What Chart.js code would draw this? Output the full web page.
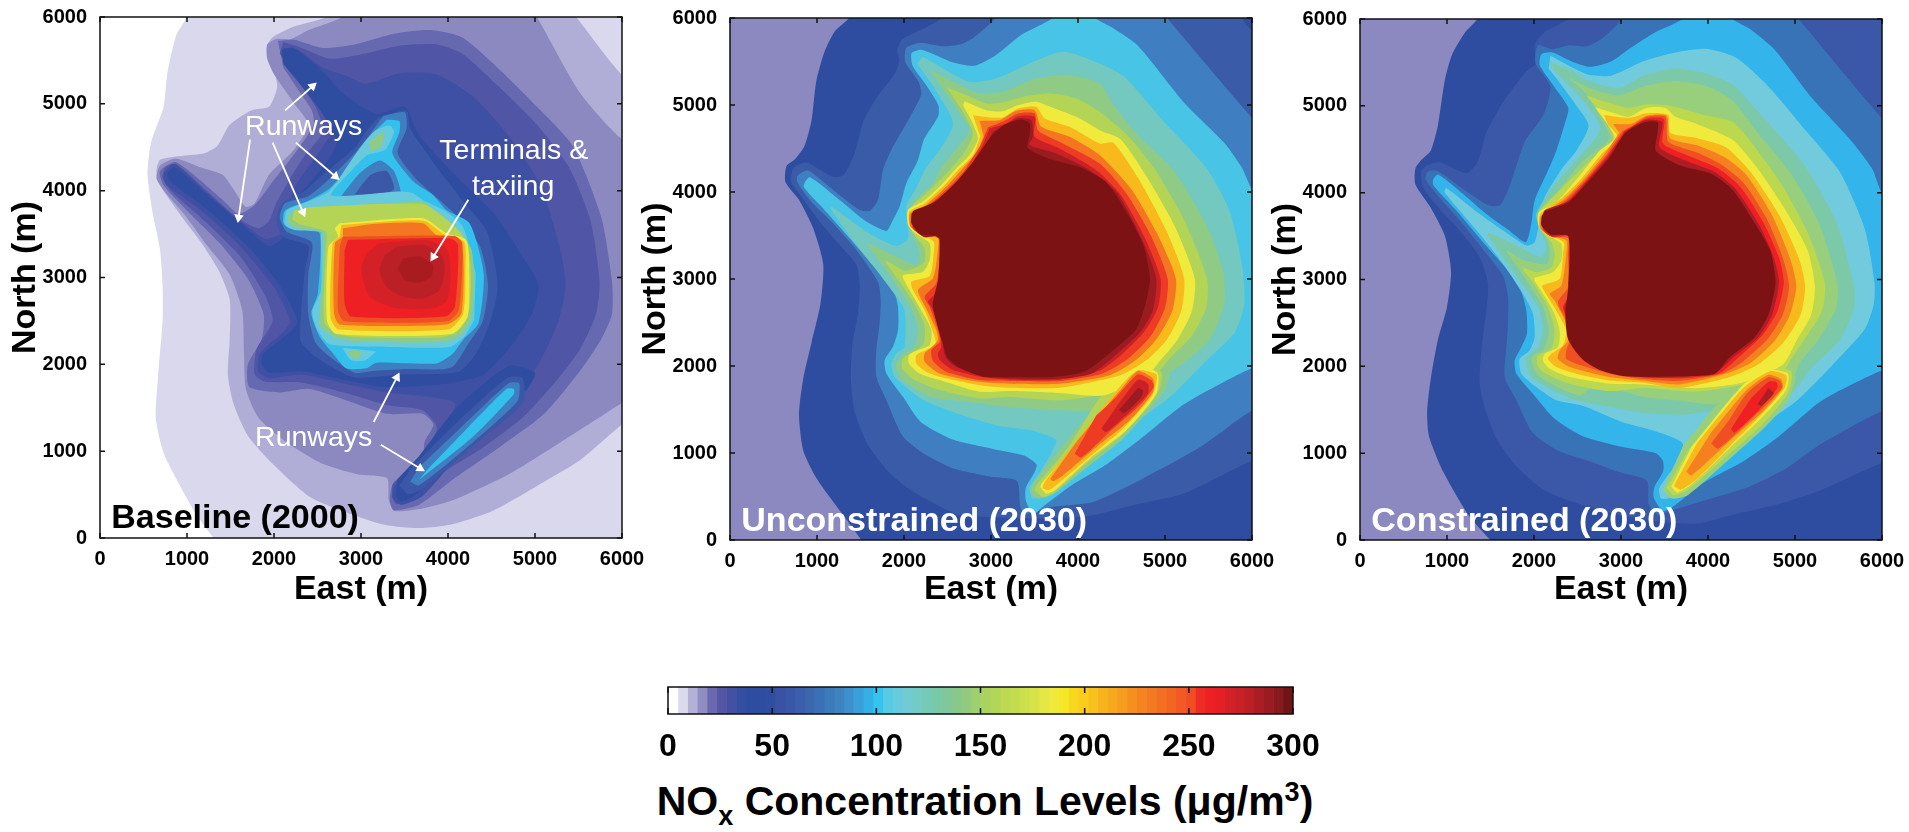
<!DOCTYPE html>
<html><head><meta charset="utf-8">
<style>
html,body{margin:0;padding:0;background:#fff;width:1909px;height:832px;overflow:hidden}
canvas{position:absolute;display:block}
#cbt{position:absolute;left:560px;width:850px;top:778px;text-align:center;font:bold 41px "Liberation Sans",Arial,sans-serif;color:#000;white-space:nowrap}
#cbt sub{font-size:27px;line-height:0;vertical-align:-10px}
#cbt sup{font-size:27px;line-height:0;vertical-align:14px}
</style></head><body>
<canvas id="c1" style="left:0;top:0"></canvas>
<canvas id="c2" style="left:630px;top:0"></canvas>
<canvas id="c3" style="left:1260px;top:0"></canvas>
<canvas id="cb" style="left:600px;top:670px"></canvas>
<div id="cbt">NO<sub>x</sub> Concentration Levels (μg/m<sup>3</sup>)</div>
<script src="https://cdn.jsdelivr.net/npm/chart.js@4"></script>
<script>
// ---------- colour bar ----------
const cbarColors=['#ffffff','#dcdbee','#b3b1d8','#908dc3','#6a69b0','#5555a5','#4351a3','#324fa1','#2e4da0','#2e4da0','#2f4ea1','#3a52a4','#3b58a8','#3b5fac','#3b67af','#3a71b6','#3c7ab9','#3d83c0','#3b90cd','#39a0da','#35b0e6','#33c4f0','#57cbe5','#66cbdd','#72cbd4','#74cbc5','#75cab6','#78c9a8','#7ec89a','#88c98b','#92cb7f','#9fcf6f','#aad35f','#b3d658','#bcd950','#c3dc4d','#cde04c','#d8e349','#e5e745','#f0e93b','#f5e726','#f8d81f','#f9cc1e','#f8c01d','#f7b41c','#f7a81d','#f69c1e','#f5901f','#f58420','#f47a21','#f36f22','#f26523','#f25923','#f14e24','#ee2b25','#ed2024','#e42026','#d42027','#c72027','#bc2027','#aa1d24','#9a1b22','#871a1f','#6f1518'];
const cbarStep=4.6875;
const cbarTicks=[0,50,100,150,200,250,300];
const panelTicks=[0,1000,2000,3000,4000,5000,6000];

// ---------- Panel 1: Baseline (2000), contour outlines in metres (x,y,x,y,...) ----------
const b1=[998,6100,998,6000,875,5787,772,5335,731,4965,587,4554,546,4184,608,3732,690,3321,719,2910,719,2499,669,1882,641,1389,731,978,916,608,1101,279,1306,0,1400,-100,6100,-100,6100,6100];
const b2=[2600,6100,2600,6000,2230,5890,1984,5766,1922,5664,1943,5499,2025,5294,2033,5170,1943,4965,1737,4924,1491,4759,1347,4513,1203,4431,957,4402,690,4357,649,4225,690,4061,916,3732,1162,3403,1368,3074,1491,2745,1491,2293,1470,1882,1532,1554,1696,1184,1984,855,2394,485,2764,321,3257,156,3667,115,4037,156,4530,321,5105,649,5516,896,6000,1307,6100,1350,6100,5400,6000,5335,5475,6000,5400,6100];
const b3=[2785,6100,2785,6000,2394,5848,2189,5746,2025,5746,1922,5684,1922,5520,2004,5335,2230,5006,2394,4759,2230,4472,1943,4184,1778,3855,1676,3814,1532,4020,1409,4184,1162,4266,875,4369,690,4287,649,4143,752,3978,998,3691,1203,3403,1491,3033,1635,2622,1655,2129,1676,1718,1819,1389,2148,1101,2559,855,2969,732,3298,690,3318,444,3380,312,3708,341,4078,444,4694,732,5228,1060,6000,1554,6100,1600,6100,4700,6000,4595,5516,5129,5023,6000,4950,6100];
const b4=[2045,5725,2230,5737,2559,5643,2928,5684,3380,5807,3791,5849,4160,5766,4612,5376,5023,4965,5434,4513,5762,3691,5885,2951,5885,2581,5762,2293,5516,1923,5105,1430,4612,1060,4078,690,3667,382,3380,321,3331,444,3380,649,3708,855,3729,1101,3832,1307,3708,1430,3298,1430,2805,1595,2394,1718,2066,1677,1717,1739,1700,2000,1860,2293,1881,2581,1696,2992,1368,3403,998,3773,731,4061,690,4225,875,4328,1409,3896,1593,3732,1778,3835,1984,4102,2271,4472,2456,4759,2435,4924,2271,5170,2107,5417];
const b5=[2107,5708,2271,5663,2641,5520,3051,5581,3462,5672,3873,5684,4160,5581,4571,5211,5023,4759,5393,4266,5639,3650,5742,2951,5701,2581,5516,2170,5269,1841,4859,1389,4366,1019,3914,732,3626,444,3400,395,3360,608,3544,773,3708,937,3873,1266,3708,1471,3298,1533,2805,1677,2312,1792,1902,1800,1778,1882,1799,2170,1984,2499,1902,2787,1614,3239,1203,3650,834,3978,719,4143,752,4266,875,4307,1203,4020,1573,3691,1819,3567,1943,3650,2025,3855,2312,4348,2559,4677,2476,4965,2312,5211,2148,5458,2066,5581];
const b6=[2107,5647,2271,5622,2559,5417,2846,5314,3051,5232,3462,5355,3873,5335,4284,5088,4694,4636,5064,4061,5290,3321,5351,2910,5269,2499,5064,2047,4817,1677,4489,1266,4078,896,3708,485,3462,382,3360,464,3400,629,3667,896,3914,1184,4078,1554,3708,1636,3298,1677,2805,1780,2312,1882,1943,1841,1819,1923,1840,2129,2107,2376,2189,2499,1984,2910,1573,3403,1162,3773,772,4061,731,4184,854,4307,1203,3999,1614,3650,1902,3444,2107,3526,2230,4020,2476,4389,2661,4677,2600,4924,2394,5211,2189,5417,2086,5561];
const b6d=[2086,5622,2230,5643,2559,5376,2805,5109,3175,4883,3503,4965,3667,4636,4119,4143,4530,3732,4859,3239,5043,2910,4961,2581,4756,2252,4407,1882,4000,1780,3298,1739,2805,1821,2312,1923,1943,1903,1860,2006,1881,2129,2189,2376,2271,2499,2066,2910,1696,3362,1244,3773,813,4102,772,4184,854,4266,1203,3978,1614,3629,1943,3362,2127,3485,2107,3732,2312,3978,2559,4266,2723,4554,2559,4883,2312,5211,2107,5458];
const b6e=[3400,470,3480,420,3660,520,4060,920,4470,1290,4790,1680,4900,1700,5000,1900,4700,1980,4100,1500,3680,960,3420,680];
const b7=[3195,4842,3524,4924,3565,4718,3873,4266,4160,3896,4448,3526,4571,2910,4489,2499,4325,2129,4119,1915,3462,1882,2928,1849,2600,2006,2312,2252,2312,2581,2353,3074,2394,3362,2107,3465,2025,3650,2095,3855,2353,3999,2559,4184,2928,4492,3052,4677];
const b7r=[3442,608,3544,506,3708,567,4284,1060,4859,1554,4859,1841,4674,1841,4078,1307,3585,814];
const b8=[3257,4862,3503,4903,3524,4718,3421,4431,3667,4102,4078,3732,4366,3362,4460,2910,4400,2499,4242,2252,4037,1964,3462,1944,3133,1923,2928,1903,2641,2088,2476,2252,2394,2581,2394,3033,2435,3403,2148,3526,2066,3691,2127,3855,2394,3937,2600,4102,2928,4431,3092,4636];
const b8r=[3565,649,3667,608,4284,1101,4797,1574,4818,1780,4694,1780,4119,1245,3667,814];
const b9=[3298,4821,3442,4800,3442,4677,3360,4431,3606,4102,3827,3950,3980,3778,4248,3624,4410,3048,4350,2472,4172,2280,4057,2126,3865,2011,3176,2019,3061,1954,2831,1954,2678,2126,2525,2318,2429,2587,2505,2818,2525,3509,2333,3555,2180,3566,2107,3629,2127,3773,2394,3884,2641,4028,2969,4389,3133,4657];
const b9r=[3667,670,4284,1163,4756,1656,4756,1718,4674,1718,4202,1245,3749,773];
const h1=[2743,3896,2990,4205,3216,4348,3380,4225,3462,3917,3257,3876];
const h2=[2928,3958,3113,4184,3298,4225,3380,4020,3175,3937];
const b10=[4320,3048,4172,3586,3980,3758,3712,3893,3597,3970,3444,3989,2661,3945,2867,4205,3072,4410,3277,4472,3380,4677,3331,4751,3175,4698,3052,4574,2887,4348,2641,4000,2394,3876,2148,3773,2127,3609,2230,3547,2540,3526,2540,3470,2540,2856,2440,2606,2500,2395,2640,2230,3329,2200,4018,2200,4190,2320,4300,2510];
const b10s=[2785,2191,2887,2047,3052,2047,3175,2150];
const b11=[2210,3732,3708,3876,3873,3732,4099,3568,4270,3321,4300,2910,4270,2540,4150,2340,3955,2260,3052,2260,2723,2300,2530,2440,2530,2581,2570,3321,2540,3526,2271,3568,2168,3629,2168,3732];
const b11s=[3092,4554,3257,4677,3236,4513,3113,4451];
const b11t=[2846,2129,2928,2067,3010,2129,2928,2170];
const b12=[2230,3773,2476,3814,3708,3847,3955,3691,4140,3526,4240,3321,4265,2910,4225,2540,4100,2370,3914,2310,3052,2310,2764,2345,2580,2480,2595,3321,2600,3526,2292,3617,2210,3670];
const b13=[2755,3624,3712,3682,3980,3509,4210,3432,4245,3048,4225,2549,4040,2350,2716,2350,2610,2500,2625,3355,2735,3470,2697,3566];
const b14=[2774,3605,3712,3655,3961,3490,4185,3413,4200,3048,4175,2587,4010,2405,2735,2405,2650,2549,2675,3394,2755,3470];
const b15=[2793,3566,3138,3616,3712,3624,3865,3490,4150,3413,4155,2587,3990,2460,2755,2460,2690,2587,2700,3394,2793,3470];
const b16=[2793,3470,4076,3478,4165,3394,4125,2626,3990,2495,2812,2495,2735,2626,2755,3355];
const b17=[2850,3432,4018,3451,4115,3374,4080,2664,3965,2550,2889,2550,2812,2702,2812,3317];
const b18=[3214,3394,3712,3432,3980,3336,4030,3048,3990,2741,3827,2645,3406,2645,3099,2779,3003,3086,3061,3278];
const b19=[3406,3355,3712,3374,3923,3259,3961,3086,3904,2856,3712,2760,3482,2779,3291,2894,3214,3086,3272,3259];
const b20=[3482,3221,3674,3240,3827,3144,3808,3010,3655,2940,3501,2971,3425,3106];

// ---------- Panel 2: Unconstrained (2030) ----------
const u1=[1368,6100,1368,6000,1203,5845,1080,5595,990,5265,936,4815,855,4525,750,4380,650,4300,637,4115,793,3910,957,3580,1072,3170,1040,2715,936,2265,842,1855,793,1440,842,1030,998,703,1327,250,1511,0,1600,-100,6100,-100,6100,6100];
const u2=[2435,6100,2435,6000,2189,5860,1984,5760,1922,5635,1943,5510,1901,5370,1696,5100,1532,4810,1430,4440,1306,4195,1183,4175,998,4280,875,4340,731,4280,702,4115,834,3930,998,3700,1203,3455,1450,3170,1491,2920,1470,2595,1409,2265,1388,1855,1430,1485,1573,1115,1819,785,2066,580,2435,375,2640,290,3298,250,4078,270,4694,415,5228,538,6000,908,6100,860,6100,5900,6000,5860,5885,6000,5885,6100];
const u3=[3051,6100,3051,6000,2805,5780,2641,5695,2435,5675,2189,5715,2025,5655,2016,5490,2168,5265,2197,5120,2066,4855,1854,4484,1758,4254,1701,3909,1605,3782,1490,3794,1184,4024,897,4246,782,4196,770,4120,916,3909,1184,3640,1452,3334,1701,2969,1732,2758,1720,2490,1682,2183,1682,1876,1797,1608,1984,1195,2230,990,2559,825,3010,725,3298,680,3339,375,3400,300,3712,382,4172,436,4747,707,5400,1065,6000,1485,6100,1440,6100,4800,6000,4854,5023,6000,4950,6100];
const u4=[3708,6100,3708,6000,3339,5800,3051,5570,2805,5450,2559,5490,2312,5595,2189,5635,2086,5595,2099,5450,2271,5205,2394,5000,2394,4875,2230,4605,2161,4369,2027,4100,1950,3832,1854,3640,1797,3552,1567,3660,1260,3909,916,4170,847,4062,1069,3813,1375,3468,1644,3161,1873,2892,1931,2681,1931,2413,1873,2221,1778,2068,1797,1915,1988,1646,2189,1360,2559,1155,3010,1050,3380,970,3524,867,3503,785,3400,600,3400,456,3483,292,3585,374,3914,620,4325,867,4735,1175,5228,1566,6000,1977,6100,1950,6100,4000,6000,4032,5885,4278,5680,4566,5228,5018,4694,5676,4407,5881,4201,6000,4201,6100];
const u5=[2218,5554,2486,5400,2754,5266,3061,5305,3444,5477,3827,5611,4248,5477,4530,5327,4982,4813,5475,4278,5741,3785,5885,3169,5914,2717,5803,2388,5475,2059,5064,1648,4612,1319,4201,1073,3873,785,3626,538,3483,477,3442,600,3565,785,3729,1073,3750,1155,3462,1258,3051,1320,2559,1470,2218,1608,2065,1723,1892,1876,1854,2030,1912,2145,2007,2221,2007,2643,1912,2797,1682,3103,1452,3391,1165,3794,1165,3832,1567,3544,1912,3380,2046,3468,2026,3832,2160,4081,2237,4251,2448,4539,2563,4768,2524,4902,2314,5247,2149,5477];
const u6=[2295,5408,2563,5266,2869,5132,3137,5151,3520,5305,3903,5343,4248,5247,4407,4998,4694,4648,5105,4237,5475,3621,5668,3087,5680,2717,5516,2306,5187,2018,4961,1854,4900,1648,4172,1491,3790,1491,3215,1529,2723,1590,2295,1646,1988,1838,1904,1991,1981,2126,2122,2221,2161,2432,2084,2662,1950,2873,1778,3123,1586,3391,1586,3410,1950,3238,2141,3161,2180,3295,2122,3449,2046,3660,2103,3870,2333,4100,2409,4251,2620,4520,2754,4711,2658,4883,2467,5151];
const u6r=[3452,552,3541,476,3713,525,4134,859,4517,1165,4862,1548,5015,1759,5053,1989,4824,2027,4172,1491,3847,1108,3483,648];
const u7=[2494,5201,2678,5132,2946,5017,3176,5037,3367,5094,3673,5132,3980,5075,4248,4922,4571,4648,4900,4237,5228,3662,5483,3004,5475,2676,5310,2347,5064,2100,4920,1936,4287,1682,3790,1606,3215,1644,2869,1627,2410,1723,2122,1838,1981,1972,1988,2087,2218,2240,2237,2451,2141,2682,1988,2912,1797,3180,1797,3211,2007,3096,2161,3142,2237,3199,2237,3353,2122,3506,2057,3621,2072,3813,2295,4024,2524,4251,2697,4462,2793,4673,2678,4922];
const u7r=[3502,571,3598,495,3732,552,4096,878,4479,1184,4824,1548,4939,1740,4958,1931,4747,2027,4287,1682,3904,1088,3521,629];
const u8=[2697,5044,2946,4941,3137,4929,3310,4998,3520,5037,3635,4998,3980,4864,4248,4711,4489,4607,4777,4196,5105,3621,5343,3004,5310,2635,5146,2306,4941,2059,4838,1936,4307,1663,3790,1690,3215,1713,2869,1704,2410,1838,2180,1915,2057,2030,2057,2125,2161,2183,2295,2240,2314,2413,2218,2605,1988,3008,1988,3046,2218,3084,2295,3218,2295,3410,2122,3533,2046,3621,2046,3794,2218,3890,2410,4062,2582,4251,2754,4424,2850,4615,2773,4826,2678,4998];
const u8r=[3567,610,3636,533,3732,571,4134,935,4556,1261,4900,1682,4919,1912,4747,1989,4498,1797,4307,1529,3943,1069,3579,648];
const u9=[2793,4883,2984,4857,3137,4857,3310,4960,3520,4979,3616,4845,3903,4749,4248,4558,4407,4566,4694,4155,5023,3539,5220,3004,5187,2635,5023,2306,4776,2059,4489,1895,3790,1751,3215,1751,2869,1780,2410,1876,2256,1934,2141,2030,2141,2125,2256,2183,2364,2260,2333,2394,2237,2643,2103,2873,2084,2969,2295,3034,2341,3295,2341,3429,2161,3525,2065,3621,2065,3775,2237,3870,2448,4062,2620,4251,2793,4424,2877,4634];
const u9r=[3590,602,3655,571,3751,629,4134,954,4517,1280,4843,1644,4900,1797,4900,1904,4690,1950,4479,1759,3943,1088,3617,667];
const u10=[2869,4818,3099,4826,3290,4933,3501,4941,3578,4749,3903,4634,4248,4424,4612,4032,4900,3539,5125,3004,5084,2635,4900,2306,4653,2059,4366,1895,3790,1797,3215,1797,2869,1819,2410,1915,2237,2049,2237,2145,2325,2221,2390,2298,2371,2413,2264,2643,2161,2873,2333,3008,2390,3333,2390,3468,2180,3518,2072,3610,2072,3755,2256,3851,2486,4062,2658,4251,2812,4424,2927,4596];
const u10r=[3682,705,3713,675,3828,744,4211,1069,4594,1376,4862,1701,4862,1854,4690,1943,4517,1759,3981,1127];
const u11=[2965,4742,3156,4818,3310,4902,3501,4902,3539,4711,3827,4558,4248,4328,4551,3991,4838,3498,5031,3004,5002,2676,4838,2347,4571,2080,4284,1915,3790,1828,3215,1828,2869,1838,2486,1934,2333,2060,2314,2183,2410,2279,2390,2413,2295,2681,2237,2797,2371,2950,2417,3333,2410,3479,2199,3506,2095,3594,2095,3736,2275,3840,2524,4062,2697,4251,2869,4519];
const u11r=[3962,993,4038,947,4383,1261,4728,1567,4870,1759,4843,1835,4690,1904,4441,1644,4211,1433];
const u12=[2984,4730,3176,4788,3310,4872,3501,4864,3501,4634,3788,4500,4210,4251,4489,3970,4776,3457,4949,3004,4920,2676,4756,2388,4489,2121,4243,1944,3790,1843,3215,1843,2869,1876,2563,1953,2410,2068,2390,2137,2429,2221,2410,2413,2314,2681,2275,2739,2390,2873,2429,3333,2421,3487,2218,3495,2111,3583,2111,3717,2295,3832,2563,4062,2735,4251,2907,4539];
const u12r=[4268,1280,4326,1242,4594,1471,4804,1682,4804,1797,4690,1843,4479,1586];
const u13=[3022,4692,3310,4845,3463,4826,3482,4634,3444,4539,3750,4443,4133,4251,4448,3991,4735,3457,4900,3004,4858,2635,4715,2388,4427,2121,4160,1915,3790,1854,3215,1854,2869,1907,2601,1991,2486,2087,2455,2183,2448,2336,2371,2528,2325,2720,2410,2835,2440,3333,2432,3495,2237,3479,2134,3564,2126,3698,2314,3824,2582,4062,2773,4251,2946,4539];
const u13r=[4471,1491,4536,1460,4728,1644,4747,1720,4690,1751];
const u14=[2107,3785,2353,3888,2600,4114,2805,4361,3010,4648,3154,4772,3339,4833,3442,4792,3442,4648,3421,4505,3667,4381,4037,4279,4325,4114,4571,3744,4756,3374,4826,3004,4776,2717,4674,2429,4407,2183,4078,1936,3708,1874,3257,1874,2928,1874,2641,1977,2497,2100,2456,2223,2394,2429,2333,2717,2394,3004,2407,3457,2353,3498,2189,3518,2086,3641,2086,3744];

// ---------- Panel 3: Constrained (2030) ----------
const k1=[1347,6100,1347,6000,1203,5840,1060,5594,977,5306,895,4772,813,4484,711,4381,637,4278,637,4094,813,3826,977,3498,1047,3087,998,2676,895,2306,813,1854,772,1484,793,1196,957,785,1244,292,1499,0,1600,-100,6100,-100,6100,6100];
const k2=[2394,6100,2394,6000,2107,5840,2004,5696,2025,5491,1901,5388,1655,5059,1450,4690,1395,4484,1337,4330,1222,4223,916,4350,763,4311,705,4254,724,4062,916,3813,1146,3564,1375,3257,1471,2950,1452,2643,1395,2183,1375,1800,1433,1525,1573,1155,1819,826,2107,580,2518,415,2969,292,3462,210,3873,189,4284,292,4817,415,5310,580,6000,888,6100,860,6100,6100];
const k3=[3010,6100,3010,6000,2785,5778,2600,5684,2394,5696,2210,5655,2045,5696,2016,5491,2189,5224,2107,4895,1901,4605,1854,4484,1778,4254,1701,4024,1605,3851,1471,3859,1184,4043,897,4246,782,4246,755,4158,878,3985,1146,3679,1395,3372,1643,3046,1701,2797,1701,2490,1682,2221,1663,1876,1797,1608,1984,1237,2271,1032,2641,908,2969,785,3298,682,3318,415,3421,292,3626,353,4037,477,4489,620,4900,826,5310,1114,6000,1484,6100,1440,6100,4800,6000,4854,5043,6000,4970,6100];
const k4=[3708,6100,3708,6000,3380,5840,3092,5655,2887,5511,2641,5450,2435,5511,2210,5614,2086,5594,2066,5470,2230,5224,2394,4977,2353,4792,2256,4484,2161,4254,2007,3909,1969,3640,1904,3429,1701,3575,1452,3755,1184,3985,897,4208,839,4147,847,4081,1107,3794,1414,3429,1682,3123,1854,2854,1912,2643,1919,2375,1854,2221,1778,2068,1797,1915,1988,1684,2230,1402,2559,1196,3010,1073,3400,999,3483,908,3483,785,3380,600,3380,477,3483,333,3585,374,3955,662,4407,908,4817,1196,5310,1607,6000,1956,6100,1930,6100,3950,6000,3991,5885,4278,5639,4607,5187,5100,4776,5635,4489,5881,4284,6000,4284,6100];
const k5=[2189,5577,2600,5368,2887,5347,3257,5512,3626,5614,3996,5655,4325,5553,4694,5224,5146,4689,5516,4237,5803,3580,5914,2963,5906,2717,5803,2429,5434,2018,5023,1607,4612,1319,4201,1073,3873,826,3606,497,3462,477,3442,600,3626,867,3709,1114,3380,1258,3010,1360,2559,1545,2256,1608,2027,1761,1854,1915,1835,2087,1950,2183,2007,2336,1988,2605,1873,2835,1644,3180,1375,3525,973,4005,992,4054,1299,3813,1644,3564,1912,3391,2007,3429,2065,3679,2122,3947,2333,4292,2486,4484,2628,4772,2476,5018,2312,5244,2168,5429];
const k6=[2189,5503,2435,5409,2600,5298,2969,5203,3257,5347,3626,5429,3996,5367,4284,5244,4612,4895,5105,4319,5475,3662,5680,2922,5680,2676,5516,2306,5187,1977,4961,1689,4612,1443,4284,1196,3914,867,3647,538,3565,538,3873,1155,4099,1402,4099,1484,3709,1443,3257,1463,2723,1560,2486,1608,2218,1723,1969,1876,1912,2030,1912,2106,2046,2221,2103,2451,2046,2682,1835,2988,1471,3506,1471,3544,1835,3372,2084,3257,2141,3410,2084,3525,2027,3755,2199,4043,2448,4330,2764,4731,2600,5018,2394,5244,2230,5409];
const k7=[2394,5326,2641,5203,2969,5121,3257,5224,3626,5285,3996,5224,4284,5059,4571,4690,4941,4237,5269,3662,5487,2963,5475,2676,5269,2306,5064,2059,4961,1854,4427,1792,4111,1566,3667,1607,3257,1648,2723,1792,2524,1665,2065,1876,1977,2030,1988,2126,2103,2183,2172,2394,2103,2682,1892,3027,1690,3314,1690,3334,1873,3226,2149,3180,2180,3334,2141,3487,2057,3621,2065,3794,2295,4043,2563,4369,2867,4628,2702,4977,2600,5142];
const k7r=[3483,580,3585,477,3770,518,4243,929,4653,1299,4920,1607,5002,1895,4776,1977,4407,1792,4111,1566,3709,1073];
const k8=[2600,5121,2846,5039,3092,4977,3298,5018,3585,4998,3955,4895,4284,4813,4571,4484,4859,4073,5146,3539,5343,2963,5310,2635,5105,2306,4941,2059,4859,1936,4407,1792,3873,1710,3257,1751,2869,1715,2410,1800,2103,1934,2034,2030,2046,2125,2199,2202,2237,2413,2160,2682,1988,2969,1881,3103,1881,3134,2027,3084,2199,3134,2237,3295,2199,3429,2065,3583,2046,3755,2256,3985,2601,4330,2908,4628,2785,4895];
const k8r=[3524,600,3606,518,3770,580,4243,990,4633,1340,4920,1689,4961,1936,4735,1997,4407,1792,3770,1032];
const k9=[2702,4985,2928,4916,3092,4874,3298,4977,3503,4977,3626,4874,3873,4792,4284,4607,4571,4278,4900,3785,5146,3333,5228,2922,5187,2594,5023,2306,4859,2018,4391,1812,3873,1751,3257,1792,2869,1800,2410,1876,2180,1972,2103,2068,2122,2145,2275,2221,2295,2413,2218,2643,2007,2988,2007,3019,2218,3084,2314,3218,2314,3410,2141,3525,2053,3621,2057,3775,2256,3890,2500,4165,2754,4484,2928,4628,2826,4813];
const k9r=[3577,612,3647,547,3811,641,4243,1052,4612,1401,4900,1730,4920,1915,4715,1956,4407,1792,3811,1073];
const k10=[2805,4895,3092,4862,3298,4916,3544,4895,3565,4689,3873,4628,4202,4525,4489,4237,4817,3744,5043,3251,5117,2922,5064,2594,4859,2265,4571,2018,4243,1874,3667,1751,3257,1812,2869,1838,2486,1915,2256,1991,2161,2087,2199,2145,2333,2240,2371,2413,2256,2643,2103,2892,2095,2931,2295,3008,2333,3295,2341,3429,2161,3518,2065,3610,2072,3755,2320,3940,2535,4150,2790,4460,2969,4628,2846,4792];
const k10r=[3606,621,3688,580,3873,703,4284,1114,4612,1442,4879,1751,4900,1895,4715,1944,4407,1751,3873,1114];
const k11=[2908,4792,3113,4792,3298,4887,3524,4887,3565,4628,3873,4546,4202,4402,4448,4196,4735,3744,4941,3251,5015,2922,4941,2594,4776,2306,4489,2039,4202,1915,3667,1792,3257,1833,2869,1876,2410,1991,2275,2087,2295,2183,2390,2298,2371,2490,2237,2758,2180,2835,2314,2931,2371,3295,2371,3448,2180,3506,2072,3594,2084,3736,2345,3925,2555,4135,2810,4445,2980,4690];
const k11r=[3750,785,3811,744,4284,1175,4633,1484,4859,1751,4838,1854,4694,1903,4448,1730,4037,1237];
const k12=[3020,4715,3133,4772,3298,4874,3511,4874,3544,4587,3873,4463,4160,4320,4407,4114,4674,3703,4859,3251,4932,2922,4859,2594,4694,2326,4407,2059,4160,1915,3667,1833,3257,1854,2869,1915,2486,2030,2371,2087,2371,2183,2417,2317,2371,2528,2275,2739,2390,2912,2390,3295,2390,3479,2199,3495,2095,3579,2103,3717,2365,3915,2570,4125,2830,4435];
const k12r=[4037,1114,4119,1052,4612,1504,4850,1751,4826,1833,4694,1874,4448,1689,4243,1381];
const k13=[3040,4710,3298,4854,3495,4846,3483,4566,3832,4402,4119,4279,4366,4073,4633,3662,4817,3251,4871,2963,4797,2635,4633,2367,4325,2080,4119,1915,3667,1862,3257,1882,2869,1934,2563,2087,2467,2183,2467,2336,2390,2528,2333,2681,2410,2835,2410,3333,2402,3502,2218,3487,2111,3564,2111,3698,2380,3905,2580,4115,2845,4425];
const k13r=[4263,1278,4304,1237,4571,1484,4797,1751,4785,1821,4694,1821,4489,1628];
const k14=[3045,4700,3277,4835,3474,4813,3442,4525,3709,4381,4078,4237,4325,4032,4592,3621,4756,3251,4817,2963,4735,2594,4571,2326,4284,2100,4099,1936,3667,1874,3257,1874,2869,1953,2620,2106,2524,2183,2448,2336,2390,2528,2350,2681,2410,2835,2410,3498,2189,3510,2095,3621,2095,3724,2127,3800,2394,3900,2590,4110,2855,4415];
const k14r=[4571,1566,4612,1545,4756,1689,4694,1751];
const k15=[2127,3785,2394,3888,2601,4100,2869,4407,3051,4689,3277,4813,3421,4813,3421,4689,3400,4484,3667,4319,4037,4217,4284,4032,4530,3662,4715,3333,4776,2963,4694,2594,4530,2326,4243,2100,4078,1915,3667,1886,3051,1886,2764,1956,2559,2080,2394,2306,2361,2594,2394,2922,2394,3498,2189,3518,2086,3621,2086,3724];

// Draw order, low level to high level: [colour, outline, outline...]
const baselineLevels=[['#d9d8ec',b1],['#b0aed6',b2],['#8b89c0',b3],['#6668b0',b4],['#5055a5',b5],['#3d50a3',b6],['#2e4da0',b6d,b6e],['#3a58a7',b7,b7r],['#3f7fc1',b8,b8r],['#33c0ec',b9,b9r],['#3f7fc1',h1],['#3a58a7',h2],['#68cadb',b10,b10s],['#90cb86',b11,b11s,b11t],['#b4d455',b12],['#f0ea3c',b13],['#f7b91c',b14],['#f47620',b15],['#f04e23',b16],['#ee2024',b17],['#d42027',b18],['#bc2027',b19],['#a81c20',b20]];
const unconstrainedLevels=[['#8b89c0',[-100,-100,6100,-100,6100,6100,-100,6100]],['#2e4da0',u1],['#3a5ba8',u2],['#3f7fc1',u3],['#48c4e6',u4],['#73c8c0',u5],['#90cb86',u6,u6r],['#b4d455',u7,u7r],['#f0ea3c',u8,u8r],['#f7b91c',u9,u9r],['#f47620',u10,u10r],['#ee3b24',u11,u11r],['#cc2027',u12,u12r],['#9a1b20',u13,u13r],['#7c1214',u14]];
const constrainedLevels=[['#8b89c0',[-100,-100,6100,-100,6100,6100,-100,6100]],['#2e4da0',k1],['#3a58a7',k2],['#3873b8',k3],['#33b4ea',k4],['#72cbdc',k5],['#7bc9a8',k6],['#98cf7c',k7,k7r],['#bbd84f',k8,k8r],['#f0ea3c',k9,k9r],['#f7b91c',k10,k10r],['#f58020',k11,k11r],['#f04e23',k12,k12r],['#ee2024',k13,k13r],['#ac1e24',k14,k14r],['#7c1214',k15]];

// Annotations (panel 1), metres
const arrowsTailHead=[[2127,4924,2444,5203],[1725,4587,1593,3691],[1984,4554,2333,3752],[2251,4554,2706,4163],[4234,3896,3832,3239],[3146,1336,3413,1849],[3228,1073,3680,801]];
const baselineNotes=[['Runways',2341,4641],['Runways',2456,1063],['Terminals &',4756,4365],['taxiing',4748,3955]];

const FF='"Liberation Sans",Arial,sans-serif';
const toPts=a=>{const o=[];for(let i=0;i<a.length;i+=2)o.push({x:a[i],y:a[i+1]});return o;};

const framePlugin={id:'frame',afterDatasetsDraw(ch){
  const {ctx,chartArea:a,scales:{x,y}}=ch;
  const ticksInward=ch.config.options.plugins.frame;
  ctx.save();ctx.strokeStyle='#111';ctx.lineWidth=1.5;
  ctx.strokeRect(a.left,a.top,a.right-a.left,a.bottom-a.top);
  ctx.beginPath();
  const L=ticksInward.len;
  x.ticks.forEach(t=>{const p=x.getPixelForValue(t.value);ctx.moveTo(p,a.top);ctx.lineTo(p,a.top+L);ctx.moveTo(p,a.bottom);ctx.lineTo(p,a.bottom-L);});
  if(ticksInward.yTicks)y.ticks.forEach(t=>{const p=y.getPixelForValue(t.value);ctx.moveTo(a.left,p);ctx.lineTo(a.left+L,p);ctx.moveTo(a.right,p);ctx.lineTo(a.right-L,p);});
  ctx.stroke();ctx.restore();
}};
const notesPlugin={id:'notes',afterDatasetsDraw(ch){
  const {ctx,scales:{x,y}}=ch;const o=ch.config.options.plugins.notes;
  ctx.save();
  (o.items||[]).forEach(n=>{ctx.font=n[3];ctx.fillStyle=n[4];ctx.textAlign=n[5]||'center';ctx.textBaseline='alphabetic';ctx.fillText(n[0],x.getPixelForValue(n[1]),y.getPixelForValue(n[2]));});
  ctx.restore();
}};

function panel(id,w,h,pad,levels,notes,arrows){
  const cv=document.getElementById(id);cv.width=w;cv.height=h;cv.style.width=w+'px';cv.style.height=h+'px';
  const ds=[];
  levels.forEach(lv=>{for(let i=1;i<lv.length;i++){ds.push({data:toPts(lv[i]),showLine:true,fill:'shape',backgroundColor:lv[0],borderColor:lv[0],borderWidth:0,tension:0.22,capBezierPoints:false,pointRadius:0});}});
  ds.forEach((d,i)=>d.order=ds.length-i);
  (arrows||[]).forEach(a=>{
    const deg=Math.atan2(a[2]-a[0],a[3]-a[1])*180/Math.PI;
    ds.unshift({data:[{x:a[0],y:a[1]},{x:a[2],y:a[3]}],showLine:true,fill:false,borderColor:'#fff',borderWidth:1.8,tension:0,pointRadius:[0,5.5],pointStyle:'triangle',pointRotation:[0,deg],pointBackgroundColor:'#fff',pointBorderColor:'#fff',pointBorderWidth:0,order:-1});
  });
  return new Chart(cv,{type:'scatter',data:{datasets:ds},plugins:[framePlugin,notesPlugin],options:{
    responsive:false,animation:false,events:[],layout:{padding:{top:pad.top,right:pad.right,left:0,bottom:0}},
    plugins:{legend:{display:false},tooltip:{enabled:false},frame:{len:5,yTicks:true},notes:{items:notes}},
    scales:{
      x:{type:'linear',min:0,max:6000,afterBuildTicks:s=>{s.ticks=panelTicks.map(v=>({value:v}));},grid:{display:false},border:{display:false},
         ticks:{color:'#000',font:{family:FF,weight:'bold',size:20},padding:1,maxRotation:0,autoSkip:false,callback:v=>String(v)},
         title:{display:true,text:'East (m)',color:'#000',font:{family:FF,weight:'bold',size:34},padding:{top:2,bottom:0}},
         afterFit:s=>{s.height=pad.axisH;}},
      y:{type:'linear',min:0,max:6000,afterBuildTicks:s=>{s.ticks=panelTicks.map(v=>({value:v}));},grid:{display:false},border:{display:false},
         ticks:{color:'#000',font:{family:FF,weight:'bold',size:20},padding:5,autoSkip:false,callback:v=>String(v)},
         title:{display:true,text:'North (m)',color:'#000',font:{family:FF,weight:'bold',size:34},padding:{top:5,bottom:2}},
         afterFit:s=>{s.width=pad.axisW;}}
    }}});
}
const FN='28.5px '+FF, FT='bold 34px '+FF;
panel('c1',652,610,{top:17,right:30,axisH:72,axisW:100},baselineLevels,
  baselineNotes.map(n=>[n[0],n[1],n[2],FN,'#fff']).concat([['Baseline (2000)',130,110,FT,'#000','left']]),arrowsTailHead);
panel('c2',652,610,{top:18,right:30,axisH:70,axisW:100},unconstrainedLevels,
  [['Unconstrained (2030)',130,105,FT,'#fff','left']]);
panel('c3',652,610,{top:19,right:30,axisH:70,axisW:100},constrainedLevels,
  [['Constrained (2030)',130,105,FT,'#fff','left']]);

// colour bar: one stacked horizontal bar per colormap level
(function(){
  const cv=document.getElementById('cb');cv.width=750;cv.height=100;cv.style.width='750px';cv.style.height='100px';
  new Chart(cv,{type:'bar',data:{labels:[''],datasets:cbarColors.map(c=>({data:[cbarStep],backgroundColor:c,borderWidth:0,barPercentage:1,categoryPercentage:1,stack:'s'}))},plugins:[framePlugin],options:{
    indexAxis:'y',responsive:false,animation:false,events:[],layout:{padding:{top:17,left:68,right:57,bottom:0}},
    plugins:{legend:{display:false},tooltip:{enabled:false},frame:{len:6,yTicks:false}},
    scales:{
      x:{type:'linear',stacked:true,min:0,max:300,afterBuildTicks:s=>{s.ticks=cbarTicks.map(v=>({value:v}));},grid:{display:false},border:{display:false},
         ticks:{color:'#000',font:{family:FF,weight:'bold',size:32},padding:6,maxRotation:0,autoSkip:false,callback:v=>String(v)},
         afterFit:s=>{s.height=56;}},
      y:{display:false,stacked:true}
    }}});
})();
</script>
</body></html>
